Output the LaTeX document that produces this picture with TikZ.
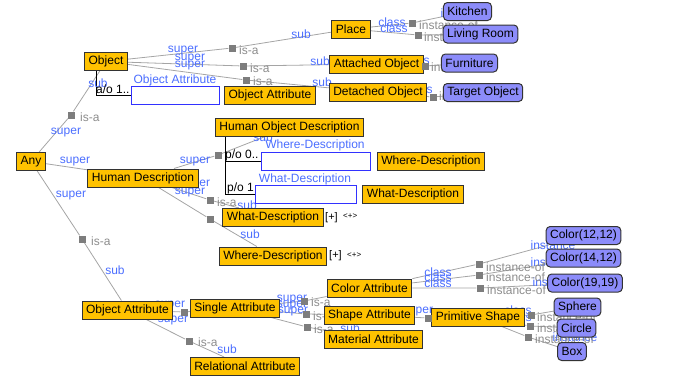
\documentclass[tikz,border=0pt]{standalone}
\usepackage{fontspec}
\setmainfont{Liberation Sans}
\usepackage{tikz}
\definecolor{frame orange}{RGB}{255,194,0}
\definecolor{frame purple}{RGB}{140,140,250}
\definecolor{label blue}{RGB}{75,110,255}
\definecolor{slot blue}{RGB}{50,50,255}
\definecolor{edge gray}{RGB}{165,165,165}
\definecolor{hub gray}{RGB}{125,125,125}
\definecolor{tag gray}{RGB}{140,140,140}
\pgfdeclarelayer{under}
\pgfsetlayers{under,main}
\tikzset{
	cls/.style={draw=black!80, line width=1pt, fill=frame orange, font=\fontsize{12}{14}\selectfont,
		inner xsep=4pt, inner ysep=0pt, minimum height=18pt},
	inst/.style={cls, fill=frame purple, rounded corners=4pt},
	slot/.style={draw=slot blue, line width=0.8pt, fill=white, minimum height=18pt, inner sep=0pt},
	hub/.style={fill=hub gray, minimum size=7pt, inner sep=0pt},
	rel/.style={edge gray, line width=0.8pt},
	lbl/.style={text=label blue, font=\fontsize{12}{14}\selectfont, inner sep=0pt},
	tag/.style={text=tag gray, font=\fontsize{12}{14}\selectfont, inner sep=0pt, anchor=west},
	card/.style={font=\fontsize{12}{14}\selectfont, inner sep=0pt, anchor=west},
}

\begin{document}
\begin{tikzpicture}[x=1pt, y=-1pt]
		\useasboundingbox (0,0) rectangle (691,380);
		% classes
		\node[cls] (any) at (31,161.5) {Any};
		\node[cls] (object) at (106,61.5) {Object};
		\node[cls] (hdesc) at (143,178) {Human Description};
		\node[cls] (oattr) at (127.5,310) {Object Attribute};
		\node[cls] (place) at (351,29) {Place};
		\node[cls] (attobj) at (376.5,64) {Attached Object};
		\node[cls] (detobj) at (378,92.5) {Detached Object};
		\node[cls] (oarange) at (270,95) {Object Attribute};
		\node[cls] (hod) at (289.5,127) {Human Object Description};
		\node[cls] (whererange) at (431,161) {Where-Description};
		\node[cls] (whatrange) at (413,194) {What-Description};
		\node[cls] (whatdesc) at (273,217.5) {What-Description};
		\node[cls] (wheredesc) at (273,256) {Where-Description};
		\node[cls] (colattr) at (369.5,288) {Color Attribute};
		\node[cls] (shpattr) at (369.5,315) {Shape Attribute};
		\node[cls] (matattr) at (373.5,339.5) {Material Attribute};
		\node[cls] (sattr) at (235,308) {Single Attribute};
		\node[cls] (rattr) at (245,366.5) {Relational Attribute};
		\node[cls] (prim) at (478,317) {Primitive Shape};
		% instances
		\node[inst] (kitchen) at (467.5,11.5) {Kitchen};
		\node[inst] (living) at (480.5,34) {Living Room};
		\node[inst] (furn) at (469.5,63) {Furniture};
		\node[inst] (target) at (483,92.5) {Target Object};
		\node[inst] (col1) at (583.5,235.5) {Color(12,12)};
		\node[inst] (col2) at (583.5,258) {Color(14,12)};
		\node[inst] (col3) at (585,283) {Color(19,19)};
		\node[inst] (sphere) at (577.5,307) {Sphere};
		\node[inst] (circle) at (576.5,328) {Circle};
		\node[inst] (box) at (572,351.5) {Box};
		% slots
		\node[slot, minimum width=88pt] (oaslot) at (175,95) {};
		\node[slot, minimum width=109pt] (whereslot) at (315.5,161) {};
		\node[slot, minimum width=101pt] (whatslot) at (305.5,194) {};
		\node[lbl] (oaname) at (175,80) {Object Attribute};
		\node[lbl] (wherename) at (315,145) {Where-Description};
		\node[lbl] (whatname) at (305,179) {What-Description};
		\node[card] (oacard) at (96,89.5) {a/o 1..};
		\node[card] (wherecard) at (225,155.5) {p/o 0..};
		\node[card] (whatcard) at (227,188.5) {p/o 1};
		\node[card, font=\fontsize{11}{13}\selectfont] (whatplus) at (325,217.5) {[+]};
		\node[card, font=\fontsize{8}{10}\selectfont] (whatmore) at (343,216.5) {<+>};
		\node[card, font=\fontsize{11}{13}\selectfont] (whereplus) at (329,256) {[+]};
		\node[card, font=\fontsize{8}{10}\selectfont] (wheremore) at (347,255) {<+>};
		% is-a hubs
		\node[hub] (isa1) at (71,115) {};
		\node[hub] (isa3) at (82,239) {};
		\node[hub] (isa4) at (232,48) {};
		\node[hub] (isa5) at (243,66) {};
		\node[hub] (isa6) at (246,80) {};
		\node[hub] (isa7) at (218,155) {};
		\node[hub] (isa8) at (210,200) {};
		\node[hub] (isa9) at (210,219) {};
		\node[hub] (isa10) at (184,312) {};
		\node[hub] (isa11) at (189,341) {};
		\node[hub] (isa12) at (304,301) {};
		\node[hub] (isa13) at (306,314) {};
		\node[hub] (isa14) at (307,327) {};
		\node[hub] (isa15) at (428,318) {};
		% instance-of hubs
		\node[hub] (io1) at (412,23) {};
		\node[hub] (io2) at (418,35) {};
		\node[hub] (io3) at (425,66) {};
		\node[hub] (io4) at (433,97) {};
		\node[hub] (io5) at (479,264) {};
		\node[hub] (io6) at (479,275) {};
		\node[hub] (io7) at (480,288) {};
		\node[hub] (io8) at (531,315) {};
		\node[hub] (io9) at (530,326) {};
		\node[hub] (io10) at (528,337) {};
		\begin{pgfonlayer}{under}
			% is-a links
			\draw[rel] (any) -- (isa1) -- (object);
			\draw[rel] (any) -- (hdesc);
			\draw[rel] (any) -- (isa3) -- (oattr);
			\draw[rel] (object) -- (isa4) -- (place);
			\draw[rel] (object) -- (isa5) -- (attobj);
			\draw[rel] (object) -- (isa6) -- (detobj);
			\draw[rel] (hdesc) -- (isa7) -- (hod);
			\draw[rel] (hdesc) -- (isa8) -- (whatdesc);
			\draw[rel] (hdesc) -- (isa9) -- (wheredesc);
			\draw[rel] (oattr) -- (isa10) -- (sattr);
			\draw[rel] (oattr) -- (isa11) -- (rattr);
			\draw[rel] (sattr) -- (isa12) -- (colattr);
			\draw[rel] (sattr) -- (isa13) -- (shpattr);
			\draw[rel] (sattr) -- (isa14) -- (matattr);
			\draw[rel] (shpattr) -- (isa15) -- (prim);
			% instance-of links
			\draw[rel] (place) -- (io1) -- (kitchen);
			\draw[rel] (place) -- (io2) -- (living);
			\draw[rel] (attobj) -- (io3) -- (furn);
			\draw[rel] (detobj) -- (io4) -- (target);
			\draw[rel] (colattr) -- (io5) -- (col1);
			\draw[rel] (colattr) -- (io6) -- (col2);
			\draw[rel] (colattr) -- (io7) -- (col3);
			\draw[rel] (prim) -- (io8) -- (sphere);
			\draw[rel] (prim) -- (io9) -- (circle);
			\draw[rel] (prim) -- (io10) -- (box);
			% slot brackets
			\draw[black, line width=0.8pt] ([xshift=-10pt]object.south) |- (oaslot.west);
			\draw[black, line width=0.8pt] ([xshift=10pt]hod.south west) |- (whereslot.west);
			\draw[black, line width=0.8pt] ([xshift=10pt]hod.south west) |- (whatslot.west);
			% super / sub
			\path (66,133) node[lbl] (sp1) {super}
				(98,83) node[lbl] (sb1) {sub}
				(75,162) node[lbl] (sp2) {super}
				(71,196) node[lbl] (sp3) {super}
				(115,270) node[lbl] (sb3) {sub}
				(183,51) node[lbl] (sp4) {super}
				(190,59) node[lbl] (sp5) {super}
				(190,66) node[lbl] (sp6) {super}
				(301,34) node[lbl] (sb4) {sub}
				(320,61) node[lbl] (sb5) {sub}
				(322,82) node[lbl] (sb6) {sub}
				(195,162) node[lbl] (sp7) {super}
				(263,137) node[lbl] (sb7) {sub}
				(195,185) node[lbl] (sp8) {super}
				(247,205) node[lbl] (sb8) {sub}
				(190,193) node[lbl] (sp9) {super}
				(250,234) node[lbl] (sb9) {sub}
				(170,306) node[lbl] (sp10) {super}
				(173,321) node[lbl] (sp11) {super}
				(227,349) node[lbl] (sb11) {sub}
				(292,300) node[lbl] (sp12) {super}
				(292,306) node[lbl] (sp13) {super}
				(293,312) node[lbl] (sp14) {super}
				(350,328) node[lbl] (sb14) {sub}
				(418,312) node[lbl] (sp15) {super};
			% class / instance
			\path (392,22) node[lbl] (cl1) {class}
				(394,28) node[lbl] (cl2) {class}
				(416,60) node[lbl] (cl3) {class}
				(419,89) node[lbl] (cl4) {class}
				(438,272) node[lbl] (cl5) {class}
				(438,277) node[lbl] (cl6) {class}
				(438,283) node[lbl] (cl7) {class}
				(518,310) node[lbl] (cl8) {class}
				(518,317) node[lbl] (cl9) {class}
				(463,13) node[lbl] (in1) {instance}
				(553,245) node[lbl] (in5) {instance}
				(553,262) node[lbl] (in6) {instance}
				(555,282) node[lbl] (in7) {instance}
				(575,337) node[lbl] (in10) {instance};
			% is-a / instance-of tags
			\path (80,117) node[tag] (t1) {is-a}
				(91,241) node[tag] (t3) {is-a}
				(239,50) node[tag] (t4) {is-a}
				(250,68) node[tag] (t5) {is-a}
				(253,81) node[tag] (t6) {is-a}
				(217,202) node[tag] (t8) {is-a}
				(198,342) node[tag] (t11) {is-a}
				(311,302) node[tag] (t12) {is-a}
				(313,316) node[tag] (t13) {is-a}
				(314,329) node[tag] (t14) {is-a}
				(419,25) node[tag] (t15) {instance-of}
				(424,37) node[tag] (t16) {instance-of}
				(431,67) node[tag] (t17) {instance-of}
				(439,96) node[tag] (t18) {instance-of}
				(486,267) node[tag] (t19) {instance-of}
				(486,277) node[tag] (t20) {instance-of}
				(487,290) node[tag] (t21) {instance-of}
				(537,317) node[tag] (t22) {instance-of}
				(537,328) node[tag] (t23) {instance-of}
				(535,339) node[tag] (t24) {instance-of};
		\end{pgfonlayer}
	\end{tikzpicture}
\end{document}
